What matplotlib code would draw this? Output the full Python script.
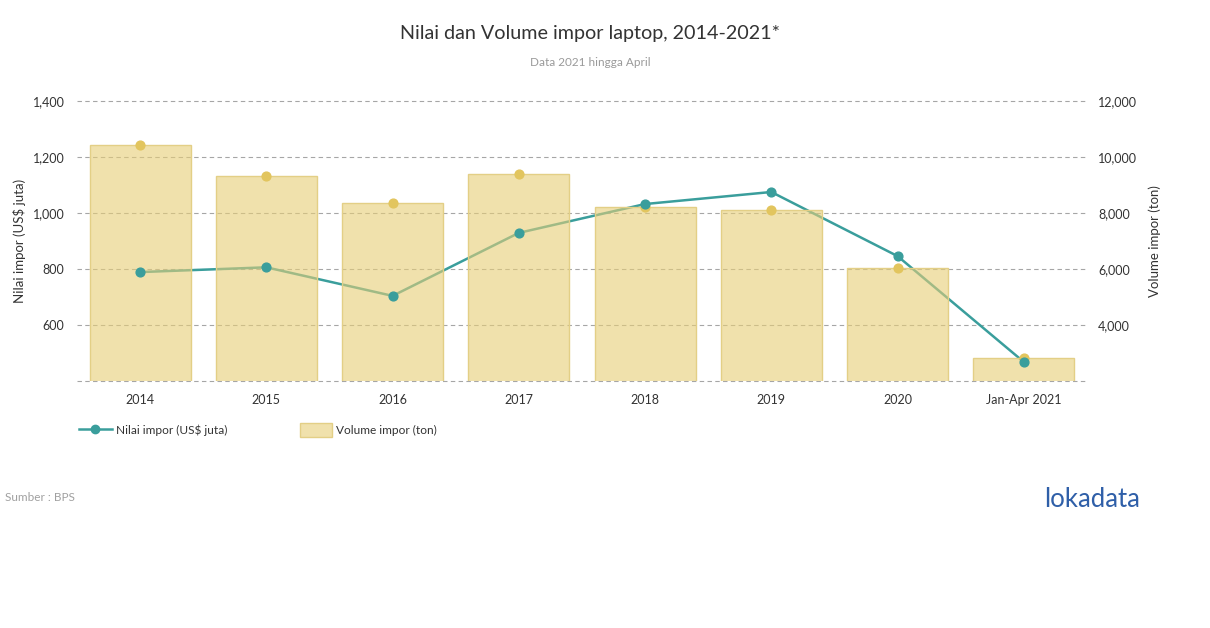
import matplotlib
matplotlib.use("Agg")
import matplotlib.pyplot as plt
from matplotlib.lines import Line2D
from matplotlib.patches import Patch
import numpy as np

plt.rcParams['font.family'] = ['Lato', 'DejaVu Sans']

# data
categories = ["2014", "2015", "2016", "2017", "2018", "2019", "2020", "Jan-Apr 2021"]
nilai = [789, 806, 704, 929, 1032, 1075, 846, 468]        # US$ juta
volume = [10430, 9320, 8360, 9390, 8210, 8110, 6040, 2820]  # ton
left_ticks = [400, 600, 800, 1000, 1200, 1400]
right_ticks = [2000, 4000, 6000, 8000, 10000, 12000]

teal = "#3A9E9C"
bar_face = (230 / 255, 205 / 255, 118 / 255, 0.6)
bar_edge = "#E3CF86"
dot_yellow = "#E2C55E"
grid_c = "#A6A6A6"
text_c = "#333333"

fig = plt.figure(figsize=(12.1, 6.28), dpi=100)
rect = [0.0636, 0.3933, 0.8347, 0.4459]
ax = fig.add_axes(rect)          # left axis: grid + line (bottom layer)
ax2 = ax.twinx()                 # right axis: bars + volume dots
ax3 = fig.add_axes(rect, sharex=ax, sharey=ax)  # teal markers on top
ax3.axis("off")
ax.set_zorder(1)
ax2.set_zorder(2)
ax3.set_zorder(3)
ax2.patch.set_visible(False)
ax3.patch.set_visible(False)

x = np.arange(len(categories))

ax.plot(x, nilai, color=teal, linewidth=1.8, zorder=3)
for v in left_ticks:
    ax.axhline(v, color=grid_c, linestyle=(0, (4, 3)), linewidth=0.8,
               zorder=0, clip_on=False)
ax3.scatter(x, nilai, s=40, color=teal, zorder=5, clip_on=False)

ax2.bar(x, volume, width=0.8, color=bar_face, edgecolor=bar_edge, linewidth=1, zorder=3)
ax2.scatter(x, volume, s=40, color=dot_yellow, zorder=4)

ax.set_ylim(400, 1400)
ax.set_yticks(left_ticks)
ax.set_yticklabels([""] + [f"{v:,}" for v in left_ticks[1:]])
ax.set_ylabel("Nilai impor (US$ juta)", fontsize=9.5, color=text_c, labelpad=5)

ax2.set_ylim(2000, 12000)
ax2.set_yticks(right_ticks)
ax2.set_yticklabels([""] + [f"{v:,}" for v in right_ticks[1:]])
ax2.set_ylabel("Volume impor (ton)", fontsize=9.5, color=text_c, labelpad=8)

ax.set_xlim(-0.5, len(categories) - 0.5)
ax.set_xticks(x)
ax.set_xticklabels(categories)

for a in (ax, ax2):
    for s in a.spines.values():
        s.set_visible(False)
    a.tick_params(length=0, labelsize=9, colors=text_c)

ax.tick_params(axis="x", pad=9)
ax.tick_params(axis="y", pad=9)
ax2.tick_params(axis="y", pad=8)

fig.text(0.4876, 0.946, "Nilai dan Volume impor laptop, 2014-2021*", ha="center",
         va="center", fontsize=14.2, color=text_c)
fig.text(0.4876, 0.900, "Data 2021 hingga April", ha="center", va="center",
         fontsize=8.5, color="#9A9A9A")

handles = [
    Line2D([0], [0], color=teal, linewidth=1.8, marker="o", markersize=6),
    Patch(facecolor=bar_face, edgecolor=bar_edge),
]
fig.legend(handles, ["Nilai impor (US$ juta)", "Volume impor (ton)"],
           loc="center left", bbox_to_anchor=(0.0655, 0.315), ncol=2, frameon=False,
           fontsize=8.6, handlelength=2.7, handleheight=1.35, columnspacing=6.1,
           handletextpad=0.35, labelcolor=text_c, borderaxespad=0, borderpad=0)

fig.text(0.004, 0.208, "Sumber : BPS", ha="left", va="center", fontsize=8.5,
         color="#A0A0A0")
fig.text(0.942, 0.205, "lokadata", ha="right", va="center", fontsize=18.5,
         color="#2F5FA8")

fig.savefig("out.png", dpi=100)
